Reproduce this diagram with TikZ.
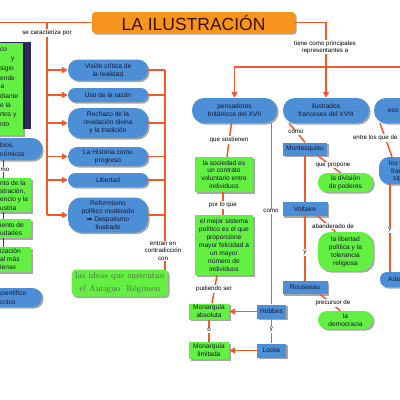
\documentclass[tikz,border=0pt]{standalone}
\usepackage{fontspec}
\setsansfont{Liberation Sans}
\newfontfamily\dejavu{DejaVu Sans}
\usetikzlibrary{shadows,arrows.meta}
\definecolor{ora}{HTML}{F0592A}
\definecolor{titlefill}{HTML}{F7941D}
\definecolor{blu}{HTML}{4D8FD6}
\definecolor{grn}{HTML}{63F043}
\definecolor{navy}{HTML}{2B2760}
\definecolor{txt}{HTML}{151530}
\definecolor{ttl}{HTML}{3A1208}
\definecolor{hand}{HTML}{5A6650}
\tikzset{
  shd/.style={drop shadow={shadow xshift=1.6pt,shadow yshift=-1.6pt,opacity=0.35,fill=black}},
  boxfont/.style={font=\sffamily\fontsize{6.6}{7.9}\selectfont, text=txt, align=center, inner sep=0pt},
  bpill/.style={shd, boxfont, fill=blu},
  brect/.style={shd, boxfont, fill=blu},
  grect/.style={shd, boxfont, fill=grn},
  gpill/.style={shd, boxfont, fill=grn},
  frag/.style={font=\sffamily\fontsize{6.6}{7.9}\selectfont, text=txt, inner sep=0pt, anchor=west},
  lbl/.style={fill=white, font=\sffamily\fontsize{6.2}{7.2}\selectfont, inner sep=0.8pt, align=center, text=black},
  ln/.style={draw=ora, line width=1.5pt},
  arr/.style={ln, -{Triangle[length=6pt,width=6pt]}},
  dk/.style={draw=black!75, line width=0.7pt}
}
\begin{document}
\begin{tikzpicture}[x=1pt,y=-1pt]
\useasboundingbox (0,0) rectangle (400,400);
\fill[white] (0,0) rectangle (400,400);
\begin{scope}
\clip (0,0) rectangle (400,400);
% ---------- title
\node[shd, fill=titlefill, rounded corners=3pt, minimum width=203pt, minimum height=21pt, inner sep=0pt,
      font=\sffamily\fontsize{17.5}{18}\selectfont, text=ttl] (title) at (193.5,22.5) {LA ILUSTRACIÓN};
% ---------- left column
\node[bpill, rounded corners=10pt, minimum width=80pt, minimum height=21pt] (vis) at (108,70) {Visión crítica de\\la realidad};
\node[bpill, rounded corners=7pt, minimum width=80pt, minimum height=14pt] (uso) at (108,95) {Uso de la razón};
\node[bpill, rounded corners=12pt, minimum width=80pt, minimum height=30pt] (rech) at (108,123) {Rechazo de la\\revelación divina\\y la tradición};
\node[bpill, rounded corners=9.5pt, minimum width=80pt, minimum height=19pt] (hist) at (108,156.5) {La Historia como\\progreso};
\node[bpill, rounded corners=7pt, minimum width=80pt, minimum height=14pt] (lib) at (108,180) {Libertad};
\node[bpill, rounded corners=13pt, minimum width=80pt, minimum height=35pt] (ref) at (108,215) {Reformismo\\político moderado\\{\dejavu ➡} Despotismo\\Ilustrado};
\node[gpill, rounded corners=4pt, minimum width=96pt, minimum height=27pt,
      font=\rmfamily\fontsize{8.7}{12.5}\selectfont, text=hand] (ideas) at (120,283) {las ideas que sustentan\\el Antiguo \ Régimen};
% ---------- far left (cut off)
\node[fill=navy, minimum width=41pt, minimum height=87pt, inner sep=0pt] (navyb) at (10.5,85.5) {};
\node[shd, fill=grn, minimum width=33pt, minimum height=92pt, inner sep=0pt] (gl) at (6.5,89) {};
\node[frag] at (0,50) {co};
\node[frag] at (11,59.5) {y};
\node[frag] at (0,69) {sigio};
\node[frag] at (0,78) {ende};
\node[frag] at (0.5,87) {a};
\node[frag] at (0,96.5) {diante};
\node[frag] at (0,105.5) {e la};
\node[frag] at (0,115) {rtos y};
\node[frag] at (0,124) {nto};
\node[bpill, rounded corners=10pt, minimum width=84pt, minimum height=22pt] (eb) at (0,149) {};
\node[frag] at (0,145) {bios.};
\node[frag] at (0,154) {nómicos};
\node[grect, minimum width=62pt, minimum height=34pt] (g1) at (0,195) {};
\node[frag] at (0,183) {nto de la};
\node[frag] at (0,191.5) {stración,};
\node[frag] at (0,200) {encio y la};
\node[frag] at (0,208) {ustria};
\node[grect, minimum width=62pt, minimum height=19pt] (g2) at (0,228.5) {};
\node[frag] at (0,225.5) {iento de};
\node[frag] at (0,233) {udades};
\node[grect, minimum width=62pt, minimum height=25pt] (g3) at (0,259.5) {};
\node[frag] at (0,251) {ización};
\node[frag] at (0,259) {al más};
\node[frag] at (0,267) {iense};
\node[bpill, rounded corners=9.5pt, minimum width=84pt, minimum height=19pt] (ct) at (0,297.5) {};
\node[frag] at (0,293) {científico};
\node[frag] at (0,302) {cnico};
\draw[dk] ([xshift=3pt]eb.south) -- ([xshift=3pt]g1.north);
\draw[dk] ([xshift=3pt]g1.south) -- ([xshift=3pt]g2.north);
\draw[dk] ([xshift=3pt]g2.south) -- ([xshift=3pt]g3.north);
\node[lbl, anchor=west, inner sep=0.5pt] at (0,169.5) {mo};
% ---------- middle column
\node[bpill, rounded corners=12pt, minimum width=85pt, minimum height=25pt] (pens) at (234.5,110.5) {pensadores\\británicos del XVII};
\node[grect, minimum width=58pt, minimum height=35pt] (soc) at (224,174.5) {la sociedad es\\un contrato\\voluntario entre\\individuos};
\node[grect, minimum width=58pt, minimum height=60pt] (mej) at (224,245) {el mejor sistema\\político es el que\\proporcione\\mayor felicidad a\\un mayor\\número de\\individuos};
\node[grect, minimum width=40pt, minimum height=16pt] (abs) at (209,311.5) {Monarquía\\absoluta};
\node[grect, minimum width=40pt, minimum height=17pt] (lim) at (209,350.5) {Monarquía\\limitada};
\node[brect, minimum width=29pt, minimum height=14pt] (hob) at (271.5,311.5) {Hobbes};
\node[brect, minimum width=29pt, minimum height=14pt] (lock) at (271.5,350.5) {Locke};
% ---------- franceses
\node[bpill, rounded corners=12pt, minimum width=86pt, minimum height=25pt] (franc) at (326,110.5) {ilustrados\\franceses del XVIII};
\node[brect, minimum width=44pt, minimum height=13pt] (mont) at (305,149) {Montesquieu};
\node[gpill, rounded corners=9pt, minimum width=55pt, minimum height=19pt] (div) at (345.5,182.5) {la división\\de poderes};
\node[brect, minimum width=45pt, minimum height=14pt] (volt) at (305,209) {Voltaire};
\node[gpill, rounded corners=12pt, minimum width=55pt, minimum height=39pt] (libt) at (345.5,251.5) {la libertad\\política y la\\tolerancia\\religiosa};
\node[brect, minimum width=45pt, minimum height=13pt] (rous) at (305,287.5) {Rouseeau};
\node[gpill, rounded corners=9pt, minimum width=55pt, minimum height=18pt] (dem) at (345.5,320) {la\\democracia};
% ---------- right (cut off)
\node[bpill, rounded corners=12pt, minimum width=86pt, minimum height=25pt] (eco) at (417,110.5) {};
\node[frag] at (388,110.5) {eco};
\node[bpill, rounded corners=10pt, minimum width=82pt, minimum height=27pt] (losf) at (420,170.5) {};
\node[frag] at (389,163) {los f};
\node[frag] at (391,171) {fran};
\node[frag] at (393,179) {sig};
\node[bpill, rounded corners=7pt, minimum width=80pt, minimum height=15pt] (ada) at (420,279.5) {};
\node[frag] at (388,279.5) {Ada};
% ---------- connectors
\coordinate (edgeL) at (0,22.5);
\coordinate (ltop) at (47,22.5);
\coordinate (lbot) at (47,215);
\coordinate (edgeR) at (400,67);
\coordinate (rb) at (165,269.5);
\draw[ln] (title.west) -- (edgeL);
\draw[ln] (ltop) -- (lbot);
\foreach \n in {vis,uso,rech,hist,lib,ref}{
  \draw[arr] (\n.west -| ltop) -- (\n.west);
  \draw[ln] (\n.east) -- (\n.east -| rb);
}
\draw[ln] (vis.east -| rb) -- (rb);
\draw[arr] (title.east) -| (franc.north);
\draw[arr] (edgeR) -| (pens.north);
\draw[ln] ([xshift=-3pt]pens.south) -- ([xshift=3pt]soc.north);
\draw[ln] ([xshift=-1pt]soc.south) -- ([xshift=-1pt]mej.north);
\draw[ln] ([xshift=-7pt]mej.south) -- ([xshift=3pt]abs.north);
\draw[ln] (abs.south) -- (lim.north);
\draw[ln] (hob.north |- pens.south) -- (hob.north);
\draw[arr] (hob.west) -- (abs.east);
\draw[ln] (hob.south) -- (lock.north);
\draw[arr] (lock.west) -- (lim.east);
\draw[ln] ([xshift=-37pt]franc.south) -- (mont.north);
\draw[ln] ([xshift=13pt]mont.south) -- ([xshift=-5pt]div.north);
\draw[ln] (mont.south) -- (volt.north);
\draw[ln] ([xshift=13pt]volt.south) -- ([xshift=-10pt]libt.north);
\draw[ln] (volt.south) -- (rous.north);
\draw[ln] ([xshift=15pt]rous.south) -- ([xshift=-5pt]dem.north);
\draw[ln] ([xshift=-37pt]eco.south) -- ([xshift=-28pt]losf.north);
\draw[ln] ([xshift=-30pt]losf.south) -- ([xshift=-30pt]ada.north);
% ---------- labels
\node[lbl] at (47,33) {se caracteriza por};
\node[lbl] at (163,251) {entran en\\contradicción\\con};
\node[lbl] at (325,47) {tiene como principales\\representantes a};
\node[lbl] at (229,140) {que sostienen};
\node[lbl] at (223,205) {por lo que};
\node[lbl] at (214,289) {pudiendo ser};
\node[lbl] at (209,330) {o};
\node[lbl] at (271,211) {como};
\node[lbl] at (271.5,330) {y};
\node[lbl] at (296,132) {como};
\node[lbl] at (333,165) {que propone};
\node[lbl] at (333,226) {abanderado de};
\node[lbl] at (305,252.5) {y};
\node[lbl] at (333,303) {precursor de};
\node[lbl, anchor=west] at (352,138) {entre los que de};
\node[lbl] at (390,230) {y};
\end{scope}
\end{tikzpicture}
\end{document}
